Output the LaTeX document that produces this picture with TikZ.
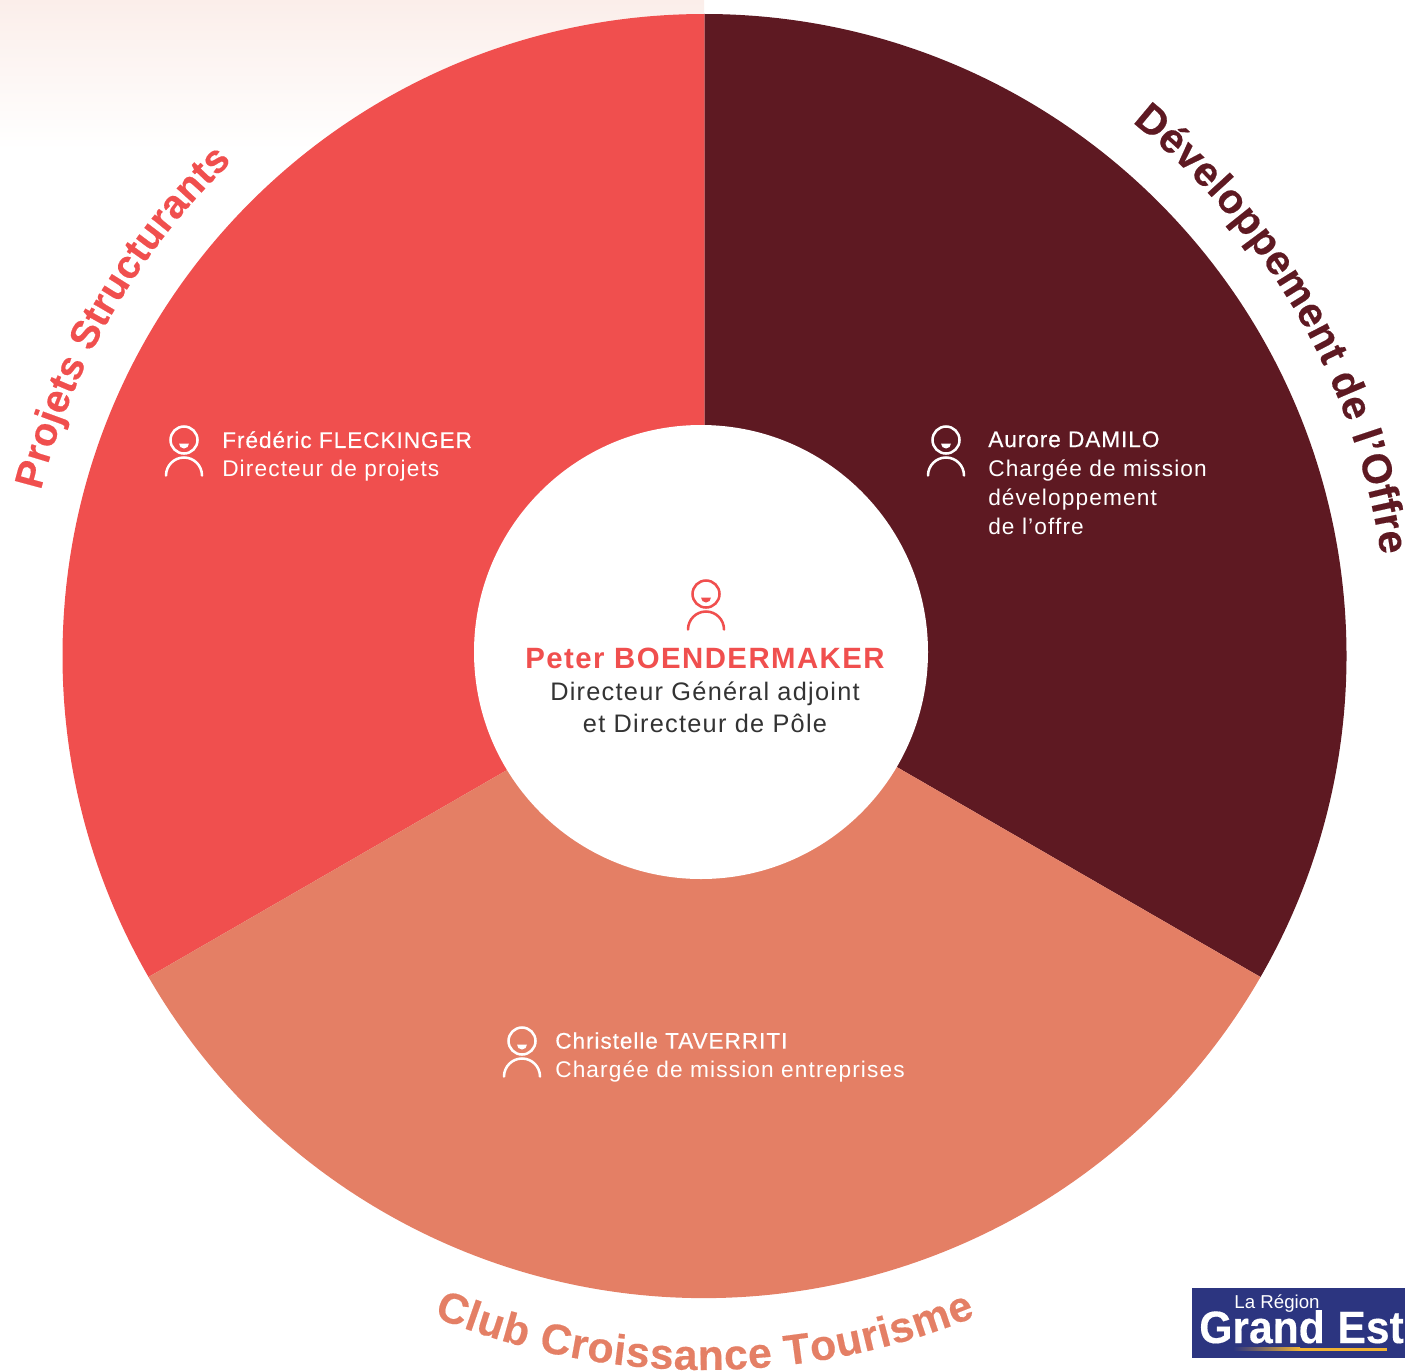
\documentclass[tikz,border=0pt]{standalone}
\usepackage{fontspec}
\usetikzlibrary{decorations.text}
\setmainfont{Liberation Sans}
\newfontfamily\bodyfont[LetterSpace=5]{Liberation Sans}
\newfontfamily\nomfont[LetterSpace=4,FakeBold=0.35]{Liberation Sans}
\newfontfamily\logofont[FakeStretch=0.94,FakeBold=0.3]{Liberation Sans}
\newfontfamily\titrefont[FakeBold=0.4]{Liberation Sans}
\definecolor{rougePole}{RGB}{240,79,78}
\definecolor{bordeaux}{RGB}{94,25,34}
\definecolor{saumon}{RGB}{228,127,101}
\definecolor{encre}{RGB}{51,51,51}
\definecolor{bleuLogo}{RGB}{44,53,128}
\definecolor{orLogo}{RGB}{240,178,50}
\definecolor{voile}{RGB}{251,238,234}
\tikzset{
  personne/.pic={
    \begin{scope}[yscale=-1]
    \draw [line width=1.9pt] (0,0) circle [radius=13.5];
    \fill (-5,3.5) -- (5,3.5) arc [start angle=0, end angle=180, radius=5] -- cycle;
    \draw [line width=1.9pt, line cap=round] (-18,35.5) arc [start angle=180, end angle=360, radius=18];
    \end{scope}
  },
  nom/.style={anchor=north west, inner sep=0pt, align=left, white, font=\bodyfont\fontsize{17}{21.75}\selectfont},
  titrearc/.style 2 args={decorate, decoration={text along path, text color=#1, text align={fit to path},
    text={|\titrefont\bfseries\fontsize{#2}{34}\selectfont|\titrecourant}}},
}
\newcommand{\titrecourant}{}
\begin{document}
\begin{tikzpicture}[x=0.75pt,y=0.75pt,yscale=-1]
\useasboundingbox (0,0) rectangle (1405,1370);

%Shape: Rectangle (voile)
\shade [top color=voile, bottom color=white] (0,0) rectangle (704,150);

%Shape: Sectors
\fill [rougePole] (704.5,656) -- (704.5,14) arc [start angle=270, end angle=150, radius=642] -- cycle;
\fill [bordeaux] (704.5,656) -- (704.5,14) arc [start angle=-90, end angle=30, radius=642] -- cycle;
\fill [saumon] (704.5,656) -- ([shift={(30:642)}]704.5,656) arc [start angle=30, end angle=150, radius=642] -- cycle;
%Shape: Circle
\fill [white] (701,652) circle [radius=227];

%Curved titles
\renewcommand{\titrecourant}{Projets Structurants}
\path [titrearc={rougePole}{29.8}] ([shift={(194:684)}]704.5,656) arc [start angle=194, end angle=226.3, radius=684];
\renewcommand{\titrecourant}{Développement de l’Offre}
\path [titrearc={bordeaux}{31}] ([shift={(-51.3:684)}]704.5,656) arc [start angle=-51.3, end angle=-8.5, radius=684];
\renewcommand{\titrecourant}{Club Croissance Tourisme}
\path [titrearc={saumon}{32}] ([shift={(112.3:714)}]704.5,656) arc [start angle=112.3, end angle=67.7, radius=714];

%Icons
\path (706,594) pic [rougePole] {personne};
\path (184,440) pic [white] {personne};
\path (946,440) pic [white] {personne};
\path (522,1041) pic [white] {personne};

% Text Node
\node (peter) [anchor=center, inner sep=0pt, rougePole, font=\bodyfont\bfseries\fontsize{22}{26}\selectfont] at (705,658) {Peter BOENDERMAKER};
\node (peterRole) [anchor=north, inner sep=0pt, align=center, encre, font=\bodyfont\fontsize{19}{24}\selectfont] at (705,682) {Directeur Général adjoint\\et Directeur de Pôle};
\node (frederic) [nom] at (222,431) {{\nomfont Frédéric FLECKINGER}\\Directeur de projets};
\node (aurore) [nom] at (988,431) {{\nomfont Aurore DAMILO}\\Chargée de mission\\développement\\de l’offre};
\node (christelle) [nom] at (555,1032) {{\nomfont Christelle TAVERRITI}\\Chargée de mission entreprises};

%Logo
\fill [bleuLogo] (1192,1288) rectangle (1405,1358);
\node (region) [anchor=center, inner sep=0pt, white, font=\fontsize{14}{16}\selectfont] at (1277,1304) {La Région};
\node (grand) [anchor=base west, inner sep=0pt, white, font=\logofont\bfseries\fontsize{34}{36}\selectfont] at (1199,1343) {Grand};
\node (est) [anchor=base east, inner sep=0pt, white, font=\logofont\bfseries\fontsize{34}{36}\selectfont] at (1404,1343) {Est};
\shade [left color=bleuLogo, right color=orLogo] (1233,1347.5) rectangle (1300,1350.5);
\fill [orLogo] (1300,1347.5) rectangle (1387,1350.5);
\end{tikzpicture}
\end{document}
